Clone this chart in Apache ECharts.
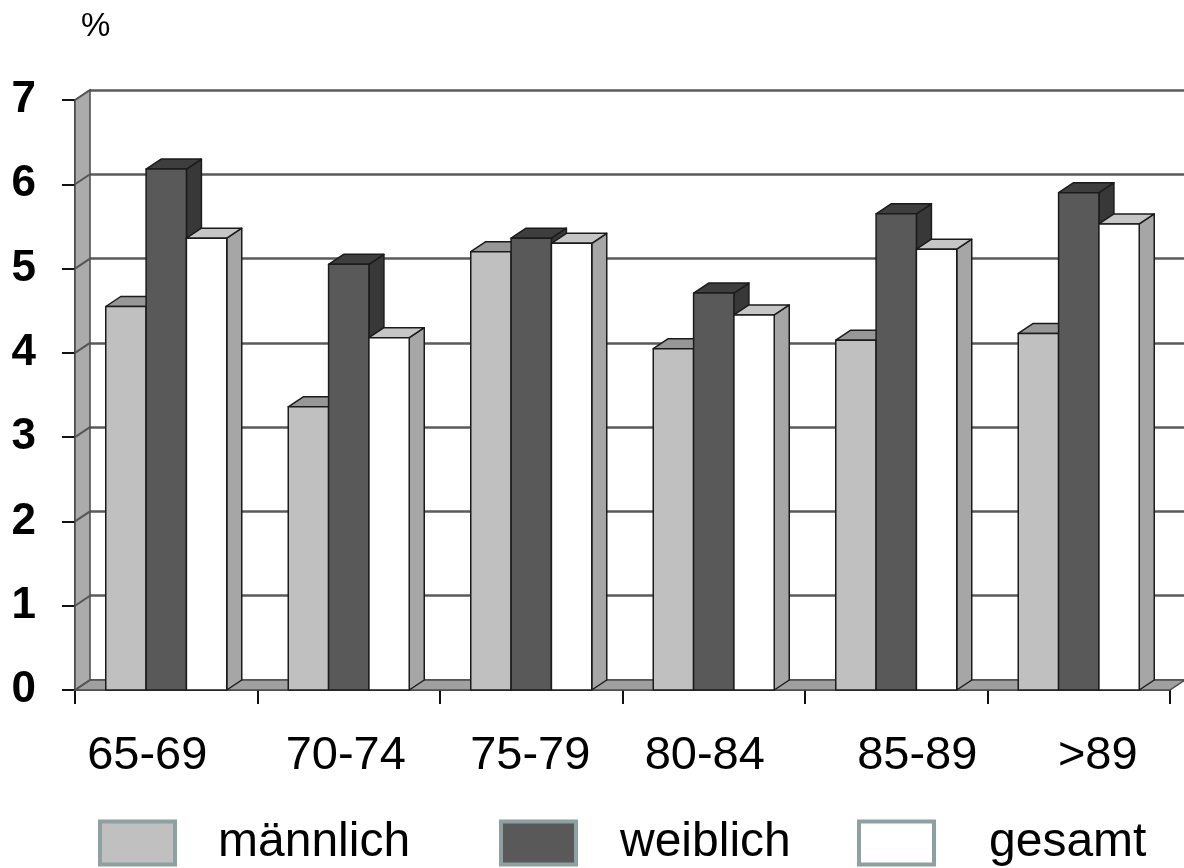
<!DOCTYPE html>
<html>
<head>
<meta charset="utf-8">
<title>Anteil nach Altersgruppe</title>
<script src="https://cdn.jsdelivr.net/npm/echarts@6/dist/echarts.min.js"></script>
<style>
  html, body { margin: 0; padding: 0; background: #ffffff; }
  #chart { width: 1184px; height: 868px; }
</style>
</head>
<body>
<div id="chart"></div>
<script>
// Altersgruppen und Anteile in %
const categories = ['65-69', '70-74', '75-79', '80-84', '85-89', '>89'];
const maennlich = [4.55, 3.36, 5.20, 4.05, 4.15, 4.23];
const weiblich  = [6.18, 5.05, 5.36, 4.71, 5.65, 5.90];
const gesamt    = [5.36, 4.18, 5.30, 4.45, 5.23, 5.53];
const yTicks = [0, 1, 2, 3, 4, 5, 6, 7];
const unitLabel = '%';

const FONT = '"Liberation Sans", Arial, Helvetica, sans-serif';
// depth of the pseudo-3D box (pixels)
const DX = 15, DY = -10;
const BAR_FRACTION = 0.221;
const EDGE = { stroke: '#1b1b1b', lineWidth: 1.5, lineJoin: 'round' };

function barRenderer(slot, colors) {
  return function (params, api) {
    const ci = api.value(0), v = api.value(1);
    const base = api.coord([ci, 0]);
    const top = api.coord([ci, v]);
    const band = api.size([1, 0])[0];
    const w = band * BAR_FRACTION;
    const x0 = base[0] + (slot - 1.5) * w, x1 = x0 + w;
    const yt = top[1], yb = base[1];
    return {
      type: 'group',
      children: [
        { type: 'polygon', shape: { points: [[x1, yt], [x1 + DX, yt + DY], [x1 + DX, yb + DY], [x1, yb]] },
          style: Object.assign({ fill: colors.side }, EDGE) },
        { type: 'polygon', shape: { points: [[x0, yt], [x1, yt], [x1 + DX, yt + DY], [x0 + DX, yt + DY]] },
          style: Object.assign({ fill: colors.top }, EDGE) },
        { type: 'rect', shape: { x: x0, y: yt, width: w, height: yb - yt },
          style: Object.assign({ fill: colors.front }, EDGE) }
      ]
    };
  };
}

function barSeries(name, values, slot, colors, z) {
  return {
    name: name,
    type: 'custom',
    xAxisIndex: 0, yAxisIndex: 0,
    z: z,
    itemStyle: { color: colors.front },
    encode: { x: 0, y: 1 },
    data: values.map((v, i) => [i, v]),
    renderItem: barRenderer(slot, colors)
  };
}

// left wall and floor of the box
function frameRenderer(params, api) {
  const cs = params.coordSys;
  const x = cs.x, y = cs.y, w = cs.width, h = cs.height;
  return {
    type: 'group',
    children: [
      { type: 'polygon', shape: { points: [[x, y], [x + DX, y + DY], [x + DX, y + h + DY], [x, y + h]] },
        style: { fill: '#ababab', stroke: '#4a4a4a', lineWidth: 1.5 } },
      { type: 'polygon', shape: { points: [[x, y + h], [x + DX, y + h + DY], [x + w + DX, y + h + DY], [x + w, y + h]] },
        style: { fill: '#a0a0a0', stroke: '#4a4a4a', lineWidth: 1.5 } }
    ]
  };
}

// diagonal links from the front ticks to the back-wall grid lines
function tickLinkRenderer(params, api) {
  const p = api.coord([0, api.value(1)]);
  const x = params.coordSys.x;
  return {
    type: 'line',
    shape: { x1: x, y1: p[1], x2: x + DX, y2: p[1] + DY },
    style: { stroke: '#555555', lineWidth: 2 }
  };
}

// per-label horizontal shifts of the category labels
const labelShift = [-19, -3, -1, -9, 21, 19];
const rich = {};
labelShift.forEach((d, i) => {
  rich['p' + i] = {
    fontFamily: FONT, fontSize: 47, color: '#000',
    padding: d < 0 ? [0, -2 * d, 0, 0] : [0, 0, 0, 2 * d]
  };
});

function legendAt(name, left, gap) {
  return {
    data: [name],
    left: left, top: 814,
    itemWidth: 75, itemHeight: 43,
    icon: 'rect',
    itemStyle: { borderColor: '#8ea0a2', borderWidth: 4 },
    textStyle: { fontFamily: FONT, fontSize: 48, color: '#000', padding: [0, 0, 0, gap] },
    selectedMode: false
  };
}

const chart = echarts.init(document.getElementById('chart'), null, { renderer: 'canvas' });
chart.setOption({
  animation: false,
  backgroundColor: '#ffffff',
  graphic: [{
    type: 'text', left: 81, top: 10,
    style: { text: unitLabel, fontSize: 33, fontFamily: FONT, fontWeight: 'normal', fill: '#000' }
  }],
  legend: [
    legendAt('männlich', 93, 38),
    legendAt('weiblich', 494, 39),
    legendAt('gesamt', 852, 50)
  ],
  grid: [
    { left: 75, right: 14, top: 100, bottom: 178 },
    { left: 90, right: -40, top: 90, bottom: 188 }
  ],
  xAxis: [
    {
      type: 'category', gridIndex: 0, data: categories, boundaryGap: true,
      axisLine: { show: true, lineStyle: { color: '#333', width: 1.5 } },
      axisTick: { show: true, interval: 0, length: 14, lineStyle: { color: '#111', width: 2 } },
      axisLabel: {
        interval: 0, margin: 43,
        formatter: (value, idx) => '{p' + idx + '|' + value + '}',
        rich: rich
      },
      splitLine: { show: false }
    },
    {
      type: 'category', gridIndex: 1, data: categories,
      show: false
    }
  ],
  yAxis: [
    {
      type: 'value', gridIndex: 0, min: 0, max: 7, interval: 1,
      axisLine: { show: true, lineStyle: { color: '#222', width: 1.5 } },
      axisTick: { show: true, length: 13, lineStyle: { color: '#111', width: 2 } },
      axisLabel: {
        margin: 39, fontFamily: FONT, fontSize: 44, fontWeight: 'bold', color: '#000',
        formatter: v => String(v)
      },
      splitLine: { show: false }
    },
    {
      type: 'value', gridIndex: 1, min: 0, max: 7, interval: 1,
      axisLine: { show: false }, axisTick: { show: false }, axisLabel: { show: false },
      splitLine: { show: true, lineStyle: { color: '#5a5a5a', width: 2.5 } }
    }
  ],
  series: [
    {
      name: 'frame', type: 'custom', xAxisIndex: 0, yAxisIndex: 0, z: 1,
      encode: { x: 0, y: 1 }, data: [[0, 0]], renderItem: frameRenderer, silent: true
    },
    {
      name: 'tickLinks', type: 'custom', xAxisIndex: 0, yAxisIndex: 0, z: 1,
      encode: { x: 0, y: 1 }, data: yTicks.map(v => [0, v]), renderItem: tickLinkRenderer, silent: true
    },
    barSeries('männlich', maennlich, 0, { front: '#c0c0c0', top: '#979797', side: '#8a8a8a' }, 2),
    barSeries('weiblich', weiblich, 1, { front: '#595959', top: '#3e3e3e', side: '#383838' }, 3),
    barSeries('gesamt', gesamt, 2, { front: '#ffffff', top: '#c6c6c6', side: '#a6a6a6' }, 4)
  ]
});
</script>
</body>
</html>
